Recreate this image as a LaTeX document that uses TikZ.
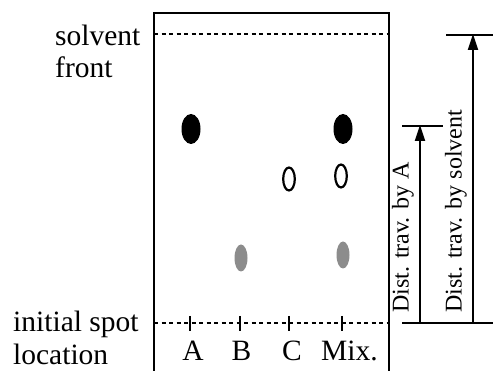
\documentclass[tikz,border=0pt]{standalone}
\usepackage{fontspec}
\setmainfont{Liberation Serif}
\usetikzlibrary{arrows.meta}
\begin{document}
\begin{tikzpicture}[x=1pt,y=-1pt,
  frame/.style={line width=2.5pt},
  dline/.style={line width=2pt,dash pattern=on 4pt off 3.5pt},
  tick/.style={line width=2.2pt},
  bar/.style={line width=2.4pt},
  arr/.style={line width=2pt,-{Triangle[length=16pt,width=10pt]}},
  big/.style={font=\fontsize{29.5}{33}\selectfont,inner sep=0pt},
  side/.style={font=\fontsize{24}{26}\selectfont,inner sep=0pt,rotate=90},
  bspot/.style={fill=black},
  ospot/.style={draw=black,line width=2.2pt},
  gspot/.style={fill=black!45}
]
\useasboundingbox (0,0) rectangle (493,371);
% coordinates
\coordinate (bl) at (154,372);
\coordinate (tl) at (154,13);
\coordinate (tr) at (389,13);
\coordinate (br) at (389,372);
\coordinate (sfl) at (154,34);
\coordinate (sfr) at (389,34);
\coordinate (il) at (154,323);
\coordinate (ir) at (389,323);
% plate
\draw[frame] (bl) -- (tl) -- (tr) -- (br);
\draw[dline] (sfl) -- (sfr);
\draw[dline] (il) -- (ir);
% ticks
\foreach \n/\x in {a/190,b/240,c/289,m/342}{
  \coordinate (t\n1) at (\x,316);
  \coordinate (t\n2) at (\x,331);
  \draw[tick] (t\n1) -- (t\n2);
}
% lane labels
\node[big,anchor=base] (la) at (193,361) {A};
\node[big,anchor=base] (lb) at (241.5,361) {B};
\node[big,anchor=base] (lc) at (292,361) {C};
\node[big,anchor=base] (lm) at (349.5,361) {Mix.};
% left texts
\node[big,anchor=base west] (sv) at (55,46) {solvent};
\node[big,anchor=base west] (fr) at (55,78) {front};
\node[big,anchor=base west] (is) at (13,332) {initial spot};
\node[big,anchor=base west] (lo) at (13,365) {location};
% spots
\fill[bspot] (191,129) ellipse [x radius=9.5, y radius=15];
\fill[bspot] (343,129) ellipse [x radius=9.5, y radius=15];
\draw[ospot] (289,179) ellipse [x radius=5.8, y radius=11.5];
\draw[ospot] (341,176) ellipse [x radius=5.8, y radius=11.5];
\fill[gspot] (241,258) ellipse [x radius=6.5, y radius=13.5];
\fill[gspot] (343,255) ellipse [x radius=6.5, y radius=13.5];
% right measurement
\coordinate (b1) at (402,323);
\coordinate (b2) at (494,323);
\coordinate (m1) at (402,126);
\coordinate (m2) at (443,126);
\coordinate (s1) at (446,35);
\coordinate (s2) at (494,35);
\coordinate (a1s) at (420,323);
\coordinate (a1e) at (420,125);
\coordinate (a2s) at (473,323);
\coordinate (a2e) at (473,34);
\draw[bar] (b1) -- (b2);
\draw[bar] (m1) -- (m2);
\draw[bar] (s1) -- (s2);
\draw[arr] (a1s) -- (a1e);
\draw[arr] (a2s) -- (a2e);
\node[side,anchor=south west] (da) at (414,313) {Dist. trav. by A};
\node[side,anchor=south west] (ds) at (467,313) {Dist. trav. by solvent};
\end{tikzpicture}
\end{document}
